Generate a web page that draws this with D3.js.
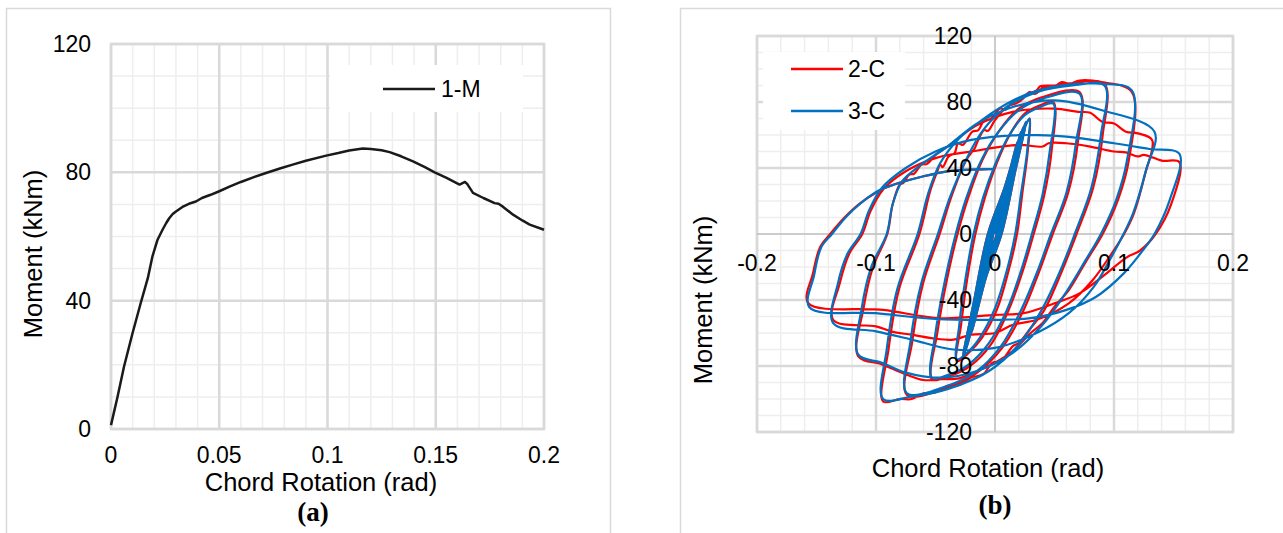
<!DOCTYPE html>
<html>
<head>
<meta charset="utf-8">
<script src="https://cdn.jsdelivr.net/npm/d3@7"></script>
<style>
html,body{margin:0;padding:0;background:#fff;}
svg text{font-family:"Liberation Sans",Arial,sans-serif;fill:#000;}
</style>
</head>
<body>
<svg id="c" width="1283" height="533"></svg>
<script>
// ---------- Panel (a) data ----------
const rotationA = [0, 0.003, 0.006, 0.01, 0.0137, 0.017, 0.0191, 0.0215, 0.0238, 0.0255, 0.0269, 0.0285, 0.030, 0.033, 0.036, 0.0392, 0.042, 0.046, 0.05, 0.055, 0.06, 0.066, 0.0716, 0.078, 0.0839, 0.09, 0.0994, 0.105, 0.11, 0.1163, 0.12, 0.125, 0.1287, 0.134, 0.1395, 0.145, 0.1495, 0.155, 0.161, 0.1635, 0.1645, 0.1672, 0.172, 0.1772, 0.179, 0.181, 0.1857, 0.19, 0.1934, 0.2];
const momentA = [1.2, 10, 19.4, 30, 39.2, 47, 53.7, 59, 62.1, 64.2, 65.7, 67, 67.8, 69.2, 70.2, 70.9, 72, 73, 74.1, 75.6, 77, 78.5, 79.8, 81.2, 82.4, 83.6, 85.2, 86, 86.8, 87.4, 87.3, 86.9, 86.3, 85, 83.4, 81.6, 80.0, 78.3, 76.2, 77.0, 76.4, 73.6, 72, 70.4, 70.2, 69.3, 66.8, 65, 63.7, 62.1];
const xTicksA = [0, 0.05, 0.1, 0.15, 0.2];
const xTickLabelsA = ["0", "0.05", "0.1", "0.15", "0.2"];
const yTicksA = [0, 40, 80, 120];

// ---------- Panel (b) data: [rotation (rad), moment (kNm)] ----------
const elasticCycles = [
 [0,0],[0.003,9],[0.006,18],[0.003,7],[0.0015,0],[-0.003,-10],[-0.006,-20],[-0.003,-8],[-0.0015,0],
 [0.004,13],[0.010,30],[0.006,15],[0.0025,0],[-0.004,-13],[-0.010,-32],[-0.006,-16],[-0.0025,0],
 [0.004,14],[0.011,33],[0.007,17],[0.003,0],[-0.004,-14],[-0.011,-35],[-0.007,-18],[-0.003,0],
 [0.005,16],[0.014,42],[0.009,22],[0.003,0],[-0.005,-17],[-0.015,-46],[-0.009,-23],[-0.0035,0],
 [0.005,17],[0.015,45],[0.010,24],[0.0035,0],[-0.005,-18],[-0.016,-49],[-0.010,-25],[-0.004,0],
 [0.006,20],[0.018,53],[0.011,27],[0.0035,0],[-0.006,-21],[-0.019,-57],[-0.012,-30],[-0.004,0],
 [0.006,21],[0.019,56],[0.012,29],[0.004,0],[-0.006,-22],[-0.020,-60],[-0.013,-32],[-0.0045,0],
 [0.007,23],[0.022,62],[0.014,33],[0.0045,0],[-0.007,-24],[-0.023,-66],[-0.015,-36],[-0.005,0],
 [0.007,24],[0.024,65],[0.016,36],[0.005,0],[-0.007,-25],[-0.025,-71],[-0.016,-39],[-0.0055,0],
 [0.008,26],[0.026,68],[0.017,38],[0.0055,0],[-0.008,-27],[-0.027,-75],[-0.018,-42],[-0.006,0]
];
const series3C = elasticCycles.concat([
 [0.008,28],[0.018,52],[0.024,63],[0.029,70],
 [0.027,50],[0.022,25],[0.017,0],[0.010,-22],[0.0,-45],[-0.012,-62],[-0.022,-71],[-0.032,-76],
 [-0.030,-55],[-0.025,-28],[-0.018,0],[-0.010,22],[0.0,42],[0.012,60],[0.025,72],[0.038,77],[0.049,79],
 [0.046,50],[0.040,24],[0.031,0],[0.022,-22],[0.010,-46],[-0.005,-66],[-0.022,-79],[-0.038,-85],[-0.053,-87],
 [-0.050,-60],[-0.042,-28],[-0.033,0],[-0.024,22],[-0.012,44],[0.003,62],[0.020,75],[0.040,82],[0.071,85],
 [0.068,55],[0.060,25],[0.047,0],[0.036,-22],[0.022,-46],[0.005,-68],[-0.015,-83],[-0.040,-92],[-0.074,-96.5],
 [-0.071,-65],[-0.062,-30],[-0.048,0],[-0.038,22],[-0.025,44],[-0.010,63],[0.010,77],[0.035,86],[0.065,90],[0.092,90],
 [0.089,60],[0.081,28],[0.067,0],[0.055,-22],[0.040,-45],[0.020,-67],[-0.005,-83],[-0.040,-94],[-0.070,-98.5],[-0.094,-100],
 [-0.091,-70],[-0.082,-33],[-0.065,0],[-0.056,25],[-0.046,43],[-0.030,58],[-0.013,68],[0.003,76],[0.026,84.5],[0.055,90],[0.090,91],[0.115,87],
 [0.111,45],[0.102,21],[0.089,0],[0.076,-16],[0.060,-35],[0.040,-55],[0.015,-72],[-0.015,-83],[-0.045,-87],[-0.075,-84],[-0.095,-78],[-0.115,-73],
 [-0.112,-45],[-0.104,-20],[-0.091,0],[-0.086,18],[-0.078,32],[-0.062,42],[-0.040,53],[-0.015,67],[0.015,77],[0.050,81],[0.090,75],[0.134,62],
 [0.127,39],[0.116,12.5],[0.108,0],[0.097,-15],[0.083,-32],[0.062,-48],[0.035,-60],[0.0,-69],[-0.035,-70],[-0.070,-64],[-0.100,-59],[-0.136,-54],
 [-0.132,-30],[-0.124,-12],[-0.113,0],[-0.106,14],[-0.095,28],[-0.075,40],[-0.050,50],[-0.020,57],[0.020,60],[0.060,59],[0.100,55],[0.130,51.5],[0.155,48.5],
 [0.147,21],[0.134,0],[0.122,-12],[0.108,-24],[0.085,-38],[0.060,-46],[0.030,-51],[0.0,-52],[-0.050,-51.5],[-0.100,-48],[-0.156,-44.4],
 [-0.152,-25],[-0.146,-8],[-0.137,0],[-0.125,10.5],[-0.113,18.6],[-0.097,26.7],[-0.083,30.3],[-0.060,35],[-0.040,38],[-0.020,39],[0,39.5]
]);
const series2C = elasticCycles.concat([
 [0.008,28],[0.018,52],[0.024,63],[0.029,70],
 [0.0275,50],[0.023,25],[0.0185,0],[0.0115,-22],[0.0015,-46],[-0.011,-63],[-0.022,-72],[-0.032,-77],
 [-0.0285,-55],[-0.0235,-28],[-0.0165,0],[-0.0085,22],[0.0015,43],[0.013,61],[0.025,73],[0.038,78],[0.049,80],
 [0.0475,50],[0.0415,24],[0.0325,0],[0.0235,-22],[0.0115,-46],[-0.0035,-67],[-0.021,-80],[-0.038,-86],[-0.053,-88],
 [-0.0485,-60],[-0.0405,-28],[-0.0315,0],[-0.0225,22],[-0.0105,45],[0.004,63],[0.020,76],[0.040,83],[0.071,86],
 [0.0695,55],[0.0615,25],[0.0485,0],[0.0375,-22],[0.0235,-47],[0.006,-69],[-0.015,-84],[-0.040,-93],[-0.074,-97.5],
 [-0.0695,-65],[-0.0605,-30],[-0.0465,0],[-0.0365,23],[-0.024,45],[-0.017,52],[-0.015,55.5],[-0.009,63],[-0.006,62.5],[0.0,69],[0.010,77],[0.020,80],[0.023,83],[0.035,87],[0.038,89.5],[0.050,90],[0.065,91.5],[0.092,91],
 [0.0905,60],[0.0825,28],[0.0685,0],[0.0565,-22],[0.0415,-46],[0.030,-57],[0.020,-66],[0.015,-68],[0.005,-77],[-0.002,-78],[-0.010,-85],[-0.020,-87],[-0.030,-91.5],[-0.040,-92],[-0.050,-96],[-0.060,-96.5],[-0.070,-100],[-0.080,-100],[-0.094,-101.5],
 [-0.0895,-70],[-0.0805,-33],[-0.0635,0],[-0.0545,26],[-0.049,37],[-0.046,42],[-0.044,40.5],[-0.039,47],[-0.034,49],[-0.031,55],[-0.027,54],[-0.019,62],[-0.014,63],[-0.009,69],[-0.004,69.5],[0.004,76],[0.009,75.5],[0.016,81],[0.021,80.5],[0.029,86],[0.034,85],[0.041,89],[0.048,88.5],[0.056,92],[0.063,91],[0.071,93],[0.090,92],[0.115,86],
 [0.1125,45],[0.1035,21],[0.0905,0],[0.077,-16],[0.062,-34],[0.050,-44],[0.040,-54],[0.030,-60],[0.015,-71],[0.0,-78],[-0.015,-83],[-0.030,-87.5],[-0.045,-88],[-0.060,-88.5],[-0.075,-85],[-0.095,-79],[-0.115,-74],
 [-0.1105,-45],[-0.1025,-20],[-0.0905,0],[-0.086,18],[-0.080,30],[-0.077,31],[-0.072,36],[-0.068,36.5],[-0.062,42],[-0.057,42.5],[-0.050,48],[-0.040,53],[-0.015,66],[0.015,74],[0.050,76],[0.070,74],[0.080,73.5],[0.090,68],[0.100,67],[0.110,62],[0.120,61],[0.132,57],
 [0.126,36],[0.1165,12],[0.1085,0],[0.096,-14],[0.082,-28],[0.062,-42],[0.035,-52],[0.015,-55],[0.0,-60],[-0.020,-61],[-0.035,-64],[-0.050,-63.5],[-0.070,-61],[-0.085,-59.5],[-0.100,-56],[-0.136,-52],
 [-0.1305,-30],[-0.1225,-12],[-0.1115,0],[-0.1045,14],[-0.094,27],[-0.075,38],[-0.050,46],[-0.020,50],[0.020,54],[0.040,53],[0.045,55],[0.060,55],[0.080,53],[0.100,50],[0.110,49.5],[0.120,47],[0.125,48],[0.140,44.5],[0.155,43.5],
 [0.148,18],[0.135,0],[0.122,-10],[0.111,-14],[0.090,-26],[0.071,-36],[0.050,-42],[0.024,-48],[0.0,-49],[-0.046,-51],[-0.094,-46],[-0.157,-41.8],
 [-0.153,-24],[-0.147,-8],[-0.1385,0],[-0.1265,10],[-0.1145,18],[-0.099,25.5],[-0.085,30],[-0.060,35],[-0.040,38],[-0.020,39],[0,39.5]
]);
const seriesNamesB = ["2-C", "3-C"];
const seriesColorsB = ["#ff0000", "#0070c0"];
const xTicksB = [-0.2, -0.1, 0, 0.1, 0.2];
const xTickLabelsB = ["-0.2", "-0.1", "0", "0.1", "0.2"];
const yTicksB = [-120, -80, -40, 0, 40, 80, 120];

const svg = d3.select("#c");
svg.append("rect").attr("width",1283).attr("height",533).attr("fill","#fff");

// frames
svg.append("rect").attr("x",6.5).attr("y",8.5).attr("width",604).attr("height",560)
  .attr("fill","none").attr("stroke","#d9d9d9").attr("stroke-width",1.5);
svg.append("rect").attr("x",680.5).attr("y",8.5).attr("width",640).attr("height",560)
  .attr("fill","none").attr("stroke","#d9d9d9").attr("stroke-width",1.5);

function grid(g, x, y, xMinor, yMinor, xMajor, yMajor){
  const [x0,x1] = x.range(), [y0,y1] = y.range();
  g.append("g").selectAll("line").data(xMinor).join("line")
    .attr("x1",d=>x(d)).attr("x2",d=>x(d)).attr("y1",y0).attr("y2",y1)
    .attr("stroke","#eeeeee").attr("stroke-width",1.5);
  g.append("g").selectAll("line").data(yMinor).join("line")
    .attr("y1",d=>y(d)).attr("y2",d=>y(d)).attr("x1",x0).attr("x2",x1)
    .attr("stroke","#eeeeee").attr("stroke-width",1.5);
  g.append("g").selectAll("line").data(xMajor).join("line")
    .attr("x1",d=>x(d)).attr("x2",d=>x(d)).attr("y1",y0).attr("y2",y1)
    .attr("stroke","#d9d9d9").attr("stroke-width",2.5);
  g.append("g").selectAll("line").data(yMajor).join("line")
    .attr("y1",d=>y(d)).attr("y2",d=>y(d)).attr("x1",x0).attr("x2",x1)
    .attr("stroke","#d9d9d9").attr("stroke-width",2.5);
  g.append("rect").attr("x",x0).attr("y",y1).attr("width",x1-x0).attr("height",y0-y1)
    .attr("fill","none").attr("stroke","#d9d9d9").attr("stroke-width",2.5);
}

// ---------- Panel (a) ----------
const xA = d3.scaleLinear().domain([0,0.2]).range([111,544]);
const yA = d3.scaleLinear().domain([0,120]).range([429,44]);
const gA = svg.append("g");
grid(gA, xA, yA, d3.range(0,0.2001,0.01), d3.range(0,120.01,10), xTicksA, yTicksA);

gA.append("rect").attr("x",330).attr("y",65).attr("width",193).attr("height",47).attr("fill","#fff");
gA.append("line").attr("x1",383).attr("x2",435).attr("y1",89).attr("y2",89).attr("stroke","#1a1a1a").attr("stroke-width",2.5);
gA.append("text").attr("x",441).attr("y",89).attr("dy","0.35em").attr("font-size",23).text("1-M");

const lineA = d3.line().x((d,i)=>xA(rotationA[i])).y((d,i)=>yA(momentA[i]));
gA.append("path").datum(momentA).attr("d",lineA).attr("fill","none")
  .attr("stroke","#1a1a1a").attr("stroke-width",2.5).attr("stroke-linejoin","round");

gA.append("g").selectAll("text").data(yTicksA).join("text").attr("x",91).attr("y",d=>yA(d)).attr("dy","0.35em")
  .attr("text-anchor","end").attr("font-size",23).text(d=>d);
gA.append("g").selectAll("text").data(xTicksA).join("text").attr("x",d=>xA(d)).attr("y",455).attr("dy","0.35em")
  .attr("text-anchor","middle").attr("font-size",23).text((d,i)=>xTickLabelsA[i]);
gA.append("text").attr("x",321).attr("y",491).attr("text-anchor","middle").attr("font-size",25.5).text("Chord Rotation (rad)");
gA.append("text").attr("transform","translate(42,254) rotate(-90)").attr("text-anchor","middle").attr("font-size",25.5).text("Moment (kNm)");
gA.append("text").attr("x",313).attr("y",521).attr("text-anchor","middle").attr("font-size",27)
  .attr("font-weight","bold").style("font-family","'Liberation Serif','Times New Roman',serif").text("(a)");

// ---------- Panel (b) ----------
const xB = d3.scaleLinear().domain([-0.2,0.2]).range([757,1233]);
const yB = d3.scaleLinear().domain([-120,120]).range([432,36]);
const gB = svg.append("g");
grid(gB, xB, yB, d3.range(-0.2,0.2001,0.02), d3.range(-120,120.01,10), xTicksB.filter(d=>d!==0), yTicksB.filter(d=>d!==0));
gB.append("line").attr("x1",xB(0)).attr("x2",xB(0)).attr("y1",yB(-120)).attr("y2",yB(120)).attr("stroke","#bfbfbf").attr("stroke-width",1.5);
gB.append("line").attr("y1",yB(0)).attr("y2",yB(0)).attr("x1",xB(-0.2)).attr("x2",xB(0.2)).attr("stroke","#bfbfbf").attr("stroke-width",1.5);

gB.append("rect").attr("x",763).attr("y",52).attr("width",142).attr("height",78).attr("fill","#fff");
const legY = [69, 111];
seriesNamesB.forEach((n,i)=>{
  gB.append("line").attr("x1",791).attr("x2",843).attr("y1",legY[i]).attr("y2",legY[i]).attr("stroke",seriesColorsB[i]).attr("stroke-width",2.5);
  gB.append("text").attr("x",848).attr("y",legY[i]).attr("dy","0.35em").attr("font-size",23).text(n);
});

const lineB = d3.line().x(d=>xB(d[0])).y(d=>yB(d[1])).curve(d3.curveCatmullRom.alpha(0.5));
[series2C, series3C].forEach((s,i)=>{
  gB.append("path").datum(s).attr("d",lineB).attr("fill","none")
    .attr("stroke",seriesColorsB[i]).attr("stroke-width",2.2).attr("stroke-linejoin","round");
});

gB.append("g").selectAll("text").data(yTicksB).join("text").attr("x",972).attr("y",d=>yB(d)).attr("dy","0.35em")
  .attr("text-anchor","end").attr("font-size",23).text(d=>d);
gB.append("g").selectAll("text").data(xTicksB).join("text").attr("x",d=>xB(d)).attr("y",263).attr("dy","0.35em")
  .attr("text-anchor","middle").attr("font-size",23).text((d,i)=>xTickLabelsB[i]);
gB.append("text").attr("x",988).attr("y",477).attr("text-anchor","middle").attr("font-size",25.5).text("Chord Rotation (rad)");
gB.append("text").attr("transform","translate(712,300) rotate(-90)").attr("text-anchor","middle").attr("font-size",25.5).text("Moment (kNm)");
gB.append("text").attr("x",995).attr("y",514).attr("text-anchor","middle").attr("font-size",27)
  .attr("font-weight","bold").style("font-family","'Liberation Serif','Times New Roman',serif").text("(b)");
</script>
</body>
</html>
